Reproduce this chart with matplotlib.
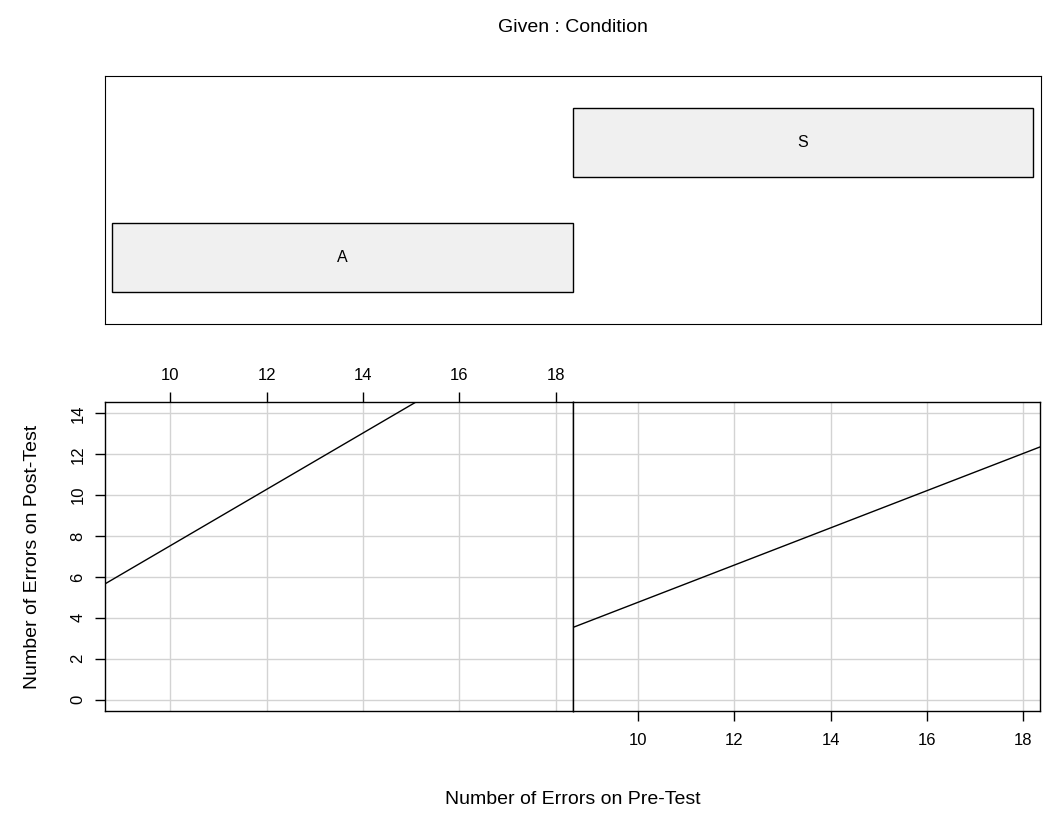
import numpy as np
import matplotlib.pyplot as plt
from matplotlib.patches import Rectangle

plt.rcParams['font.family'] = ['Liberation Sans', 'DejaVu Sans']

# given panel: condition levels and their intervals
levels = ['A', 'S']
level_lo = [0.5, 1.5]
level_hi = [1.5, 2.5]

# fitted lines (two points each)
line_x = {'A': [8.64, 15.1], 'S': [8.64, 18.36]}
line_y = {'A': [5.66, 14.56], 'S': [3.53, 12.36]}

x_ticks = [10, 12, 14, 16, 18]
y_ticks = [0, 2, 4, 6, 8, 10, 12, 14]
xlim = (8.64, 18.36)
ylim = (-0.56, 14.56)

W, H = 1045, 825
fig = plt.figure(figsize=(W / 100, H / 100), dpi=100)


def box(l, t, r, b):
    return [l / W, 1 - b / H, (r - l) / W, (b - t) / H]


# --- given panel ---
axg = fig.add_axes(box(105, 76, 1041, 324))
axg.set_xlim(0.485, 2.517)
axg.set_ylim(0.42, 2.58)
for i, lev in enumerate(levels):
    yc = i + 1
    axg.add_patch(Rectangle((level_lo[i], yc - 0.3), level_hi[i] - level_lo[i], 0.6,
                            facecolor='#f0f0f0', edgecolor='black', lw=1))
    axg.text((level_lo[i] + level_hi[i]) / 2, yc, lev, ha='center', va='center', fontsize=11.5)
axg.set_xticks([])
axg.set_yticks([])
fig.text(573 / W, 1 - 27 / H, 'Given : Condition', ha='center', va='center', fontsize=14)

# --- conditioned panels ---
ax_a = fig.add_axes(box(105, 402, 573, 711))
ax_s = fig.add_axes(box(573, 402, 1040, 711))

for ax, lev in zip([ax_a, ax_s], levels):
    ax.set_xlim(*xlim)
    ax.set_ylim(*ylim)
    for xt in x_ticks:
        ax.axvline(xt, color='#d3d3d3', lw=1, zorder=0)
    for yt in y_ticks:
        ax.axhline(yt, color='#d3d3d3', lw=1, zorder=0)
    ax.plot(line_x[lev], line_y[lev], color='black', lw=1)
    ax.set_xticks(x_ticks)
    ax.set_yticks(y_ticks)
    ax.tick_params(labelsize=12, length=7, width=1, color='black', pad=7)
    for s in ax.spines.values():
        s.set_linewidth(1)

ax_a.xaxis.tick_top()
ax_a.set_yticklabels([str(v) for v in y_ticks], rotation=90, va='center')
ax_s.set_yticks([])
ax_s.tick_params(axis='y', left=False)
ax_s.tick_params(axis='x', pad=9)

fig.text(573 / W, 1 - 800 / H, 'Number of Errors on Pre-Test', ha='center', va='center', fontsize=14)
fig.text(33 / W, 1 - 557 / H, 'Number of Errors on Post-Test', ha='center', va='center',
         rotation=90, fontsize=14)

fig.savefig('out.png', dpi=100)
